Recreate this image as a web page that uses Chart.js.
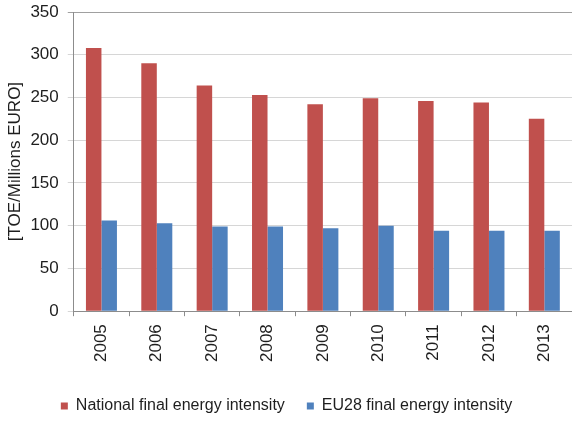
<!DOCTYPE html>
<html>
<head>
<meta charset="utf-8">
<script src="https://cdn.jsdelivr.net/npm/chart.js@4"></script>
<style>
  html, body { margin: 0; padding: 0; background: #fff; overflow: hidden; }
  #grafico { display: block; }
</style>
</head>
<body>
<canvas id="grafico" width="572" height="424"></canvas>
<script>
const anos = ['2005', '2006', '2007', '2008', '2009', '2010', '2011', '2012', '2013'];
const intensidadeNacional = [308, 290, 264, 253, 242, 249, 246, 244, 225];
const intensidadeEU28 = [106, 103, 99, 99, 97, 100, 94, 94, 94];
const ticksY = [0, 50, 100, 150, 200, 250, 300, 350];

const fonte = 'Arial, "Liberation Sans", sans-serif';
const corTexto = '#1e1e1e';

const elementoGrafico = document.getElementById('grafico');

// tira o padding extra que o Chart.js reserva para os rotulos
function semPadding(eixo) {
  eixo.paddingLeft = 0;
  eixo.paddingRight = 0;
  eixo.paddingTop = 0;
  eixo.paddingBottom = 0;
}

const grafico = new Chart(elementoGrafico, {
  type: 'bar',
  data: {
    labels: anos,
    datasets: [{
      label: 'National final energy intensity',
      data: intensidadeNacional,
      backgroundColor: '#C0504D',
      borderWidth: 0,
      categoryPercentage: 0.56,
      barPercentage: 1
    }, {
      label: 'EU28 final energy intensity',
      data: intensidadeEU28,
      backgroundColor: '#4F81BD',
      borderWidth: 0,
      categoryPercentage: 0.56,
      barPercentage: 1
    }]
  },
  options: {
    responsive: false,
    animation: false,
    layout: { padding: { left: 1, right: 0, top: 12, bottom: 0 } },
    plugins: {
      tooltip: { enabled: false },
      legend: {
        position: 'bottom',
        labels: {
          boxWidth: 7,
          boxHeight: 7,
          padding: 22,
          color: corTexto,
          font: { family: fonte, size: 16 }
        }
      }
    },
    scales: {
      x: {
        offset: true,
        afterFit: (eixo) => { semPadding(eixo); eixo.height += 6; },
        grid: {
          offset: true,
          drawOnChartArea: false,
          tickLength: 5,
          color: '#8c8c8c'
        },
        border: { color: '#8c8c8c' },
        ticks: {
          minRotation: 90,
          maxRotation: 90,
          padding: 8,
          color: corTexto,
          font: { family: fonte, size: 17 }
        }
      },
      y: {
        min: 0,
        max: 350,
        afterBuildTicks: (eixo) => { eixo.ticks = ticksY.map(v => ({ value: v })); },
        afterFit: (eixo) => { semPadding(eixo); eixo.width -= 8; },
        title: {
          display: true,
          text: '[TOE/Millions EURO]',
          color: corTexto,
          font: { family: fonte, size: 17 },
          padding: { top: 4, bottom: 4 }
        },
        grid: {
          tickLength: 6,
          color: (ctx) => ctx.tick && ctx.tick.value === 350 ? '#a0a0a0' : '#d6d6d6'
        },
        border: { color: '#8c8c8c' },
        ticks: {
          padding: 9,
          color: corTexto,
          font: { family: fonte, size: 17 }
        }
      }
    }
  }
});
</script>
</body>
</html>
